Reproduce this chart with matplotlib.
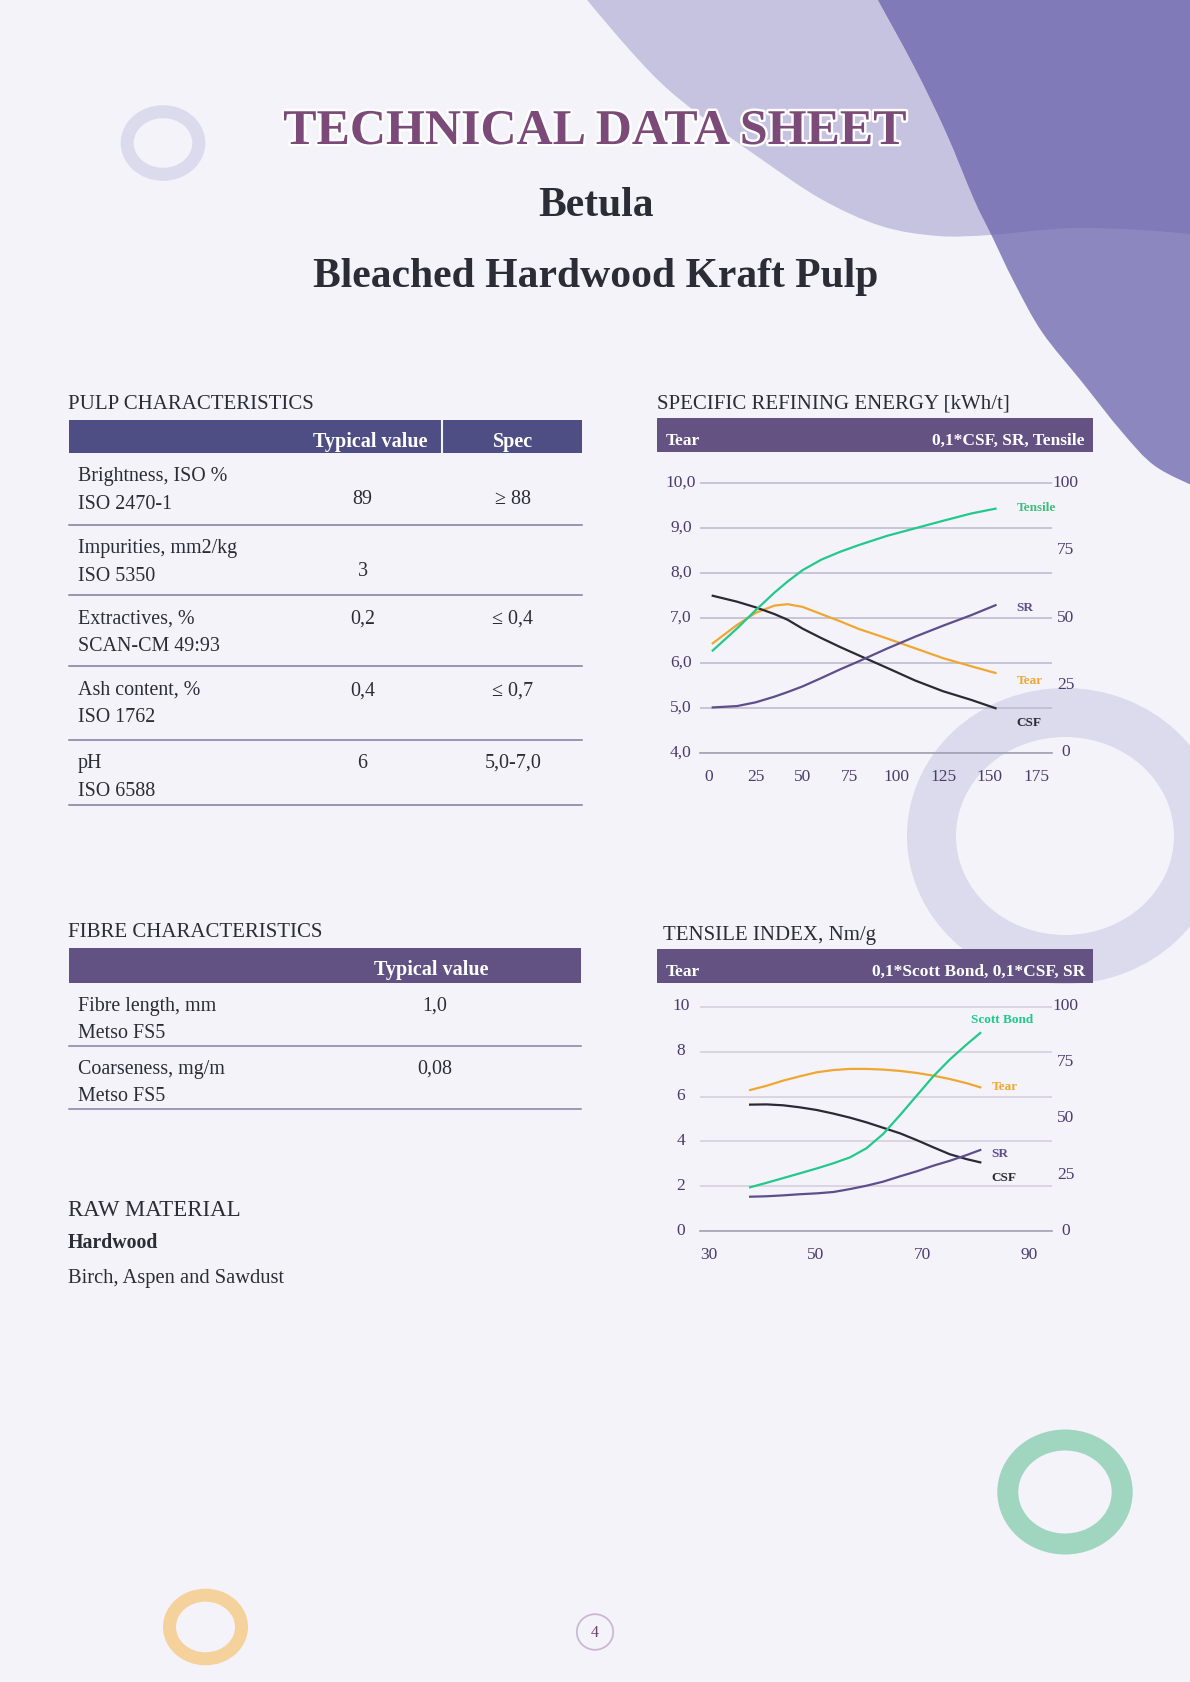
import matplotlib
matplotlib.use("Agg")
import matplotlib.pyplot as plt
import matplotlib.patheffects as pe
import matplotlib.transforms as mtransforms
from matplotlib.patches import Rectangle, Annulus, Ellipse, PathPatch
from matplotlib.path import Path

plt.rcParams["font.family"] = ["Liberation Serif", "DejaVu Serif"]

# ---- data ------------------------------------------------------------
pulp_params = ["Brightness, ISO %", "Impurities, mm2/kg", "Extractives, %",
               "Ash content, %", "pH"]
pulp_methods = ["ISO 2470-1", "ISO 5350", "SCAN-CM 49:93", "ISO 1762", "ISO 6588"]
pulp_typical = ["89", "3", "0,2", "0,4", "6"]
pulp_spec = ["≥ 88", "", "≤ 0,4", "≤ 0,7", "5,0-7,0"]

fibre_params = ["Fibre length, mm", "Coarseness, mg/m"]
fibre_methods = ["Metso FS5", "Metso FS5"]
fibre_typical = ["1,0", "0,08"]

# specific refining energy chart (x = kWh/t)
sre_energy = [2, 15, 25, 35, 42, 50, 60, 70, 80, 95, 110, 125, 140, 153]
sre_tear = [6.44, 6.85, 7.12, 7.28, 7.31, 7.25, 7.09, 6.93, 6.76, 6.55, 6.33, 6.11, 5.93, 5.78]
sre_tensile = [38.0, 46.2, 53.0, 59.5, 63.6, 67.8, 71.7, 74.6, 77.1, 80.5, 83.3, 86.1, 88.8, 90.6]
sre_sr = [16.9, 17.4, 18.8, 20.9, 22.6, 24.7, 27.8, 31.0, 34.0, 38.7, 43.1, 47.2, 51.1, 54.8]
sre_csf01 = [58.3, 56.1, 54.0, 51.5, 49.4, 46.1, 42.6, 39.3, 36.2, 31.6, 26.9, 22.9, 19.7, 16.6]
sre_xticks = [0, 25, 50, 75, 100, 125, 150, 175]
sre_left_ticks = [4, 5, 6, 7, 8, 9, 10]
sre_right_ticks = [0, 25, 50, 75, 100]

# tensile index chart (x = Nm/g)
ti_tensile = [37.7, 40.8, 43.9, 47.0, 50.2, 53.3, 56.4, 59.5, 62.6, 65.8, 68.9, 72.0, 75.1, 78.3, 80.8]
ti_tear = [6.29, 6.48, 6.71, 6.90, 7.08, 7.18, 7.23, 7.23, 7.20, 7.14, 7.05, 6.93, 6.78, 6.59, 6.41]
ti_scott01 = [19.6, 21.6, 23.7, 25.8, 28.0, 30.3, 32.9, 37.0, 43.3, 51.8, 60.4, 69.0, 76.5, 83.3, 88.3]
ti_csf01 = [56.4, 56.5, 56.1, 55.2, 54.0, 52.4, 50.6, 48.5, 46.1, 43.6, 40.6, 37.4, 34.3, 32.1, 30.7]
ti_sr = [15.4, 15.6, 16.0, 16.5, 16.9, 17.5, 18.8, 20.3, 22.1, 24.5, 26.7, 29.2, 31.4, 34.0, 36.2]
ti_xticks = [30, 50, 70, 90]
ti_left_ticks = [0, 2, 4, 6, 8, 10]
ti_right_ticks = [0, 25, 50, 75, 100]

# ---- style -----------------------------------------------------------
W, H = 1190, 1683
BG = "#f4f3f9"
TEXT = "#2b2c35"
TICK = "#4a3b6c"
GREEN = "#22c98b"
ORANGE = "#f0a732"
BLACK = "#2a2a35"
PURPLE = "#5d4e8c"
RING = "#dcdaed"
BODY = 14.4

fig = plt.figure(figsize=(W / 100, H / 100), dpi=100)
fig.patch.set_facecolor(BG)
bg = fig.add_axes([0, 0, 1, 1])
bg.set_xlim(0, W)
bg.set_ylim(H, 0)
bg.axis("off")


def smooth_path(points, closing):
    # catmull-rom through points, then straight back along the page edge
    verts = [points[0]]
    codes = [Path.MOVETO]
    n = len(points)
    for i in range(n - 1):
        p0 = points[max(i - 1, 0)]
        p1 = points[i]
        p2 = points[i + 1]
        p3 = points[min(i + 2, n - 1)]
        c1 = (p1[0] + (p2[0] - p0[0]) / 6, p1[1] + (p2[1] - p0[1]) / 6)
        c2 = (p2[0] - (p3[0] - p1[0]) / 6, p2[1] - (p3[1] - p1[1]) / 6)
        verts += [c1, c2, p2]
        codes += [Path.CURVE4] * 3
    for p in closing:
        verts.append(p)
        codes.append(Path.LINETO)
    verts.append(points[0])
    codes.append(Path.CLOSEPOLY)
    return Path(verts, codes)


# decorative background shapes
light_path = smooth_path(
    [(578, -10), (620, 40), (660, 83), (701, 117), (761, 160), (821, 200), (881, 227),
     (938, 237), (990, 236), (1042, 231), (1082, 229), (1143, 231), (1200, 236)],
    [(1200, -10)])
dark_path = smooth_path(
    [(872, -10), (914, 67), (946, 133), (974, 200), (990, 233), (1014, 283), (1042, 333),
     (1082, 383), (1122, 433), (1155, 467), (1200, 490)],
    [(1200, -10)])
light = PathPatch(light_path, facecolor="#c6c3e1", edgecolor="none", zorder=1)
bg.add_patch(light)
bg.add_patch(PathPatch(dark_path, facecolor="#8d87c0", edgecolor="none", zorder=1.1))
dark_top = PathPatch(dark_path, facecolor="#807bb8", edgecolor="none", zorder=1.2)
bg.add_patch(dark_top)
dark_top.set_clip_path(light)

bg.add_patch(Annulus((163, 144), (42.3, 37.8), 13, color=RING, lw=0, zorder=1))
bg.add_patch(Annulus((1065, 837), (158, 148), 49, color=RING, lw=0, zorder=1))
bg.add_patch(Annulus((1065, 1493), (67.7, 62.5), 21, color="#a0d6bf", lw=0, zorder=1))
bg.add_patch(Annulus((205.5, 1628), (42.5, 38.3), 13, color="#f5d19c", lw=0, zorder=1))
bg.add_patch(Ellipse((595, 1633), 36.4, 35.6, facecolor="none", edgecolor="#cdb8d3", lw=1.3, zorder=2))
bg.text(595, 1633, "4", ha="center", va="center", fontsize=11.5, color="#6d3f6e", zorder=3)

# titles
bg.text(595, 145, "TECHNICAL DATA SHEET", ha="center", va="baseline", fontsize=36,
        fontweight="bold", color="#7b4a78", zorder=5,
        path_effects=[pe.withStroke(linewidth=3.5, foreground="white")])
bg.text(596, 216, "Betula", ha="center", va="baseline", fontsize=30,
        fontweight="bold", color=TEXT, zorder=5)
bg.text(596, 287, "Bleached Hardwood Kraft Pulp", ha="center", va="baseline", fontsize=30,
        fontweight="bold", color=TEXT, zorder=5)

# ---- pulp characteristics table ---------------------------------------
bg.text(68, 409, "PULP CHARACTERISTICS", va="baseline", fontsize=15, color=TEXT)
bg.add_patch(Rectangle((68.6, 421), 513.4, 33, facecolor="#4f4e84", edgecolor="none", zorder=3))
bg.plot([442, 442], [421, 454], color=BG, lw=1.5, zorder=4)
bg.text(370, 446.7, "Typical value", ha="center", va="baseline", fontsize=14.5,
        fontweight="bold", color="white", zorder=5)
bg.text(513, 446.7, "Spec", ha="center", va="baseline", fontsize=14.5,
        fontweight="bold", color="white", zorder=5)

pulp_lines = [525.7, 596, 667, 741, 806]
pulp_tops = [454] + pulp_lines[:-1]
value_offsets = [49.5, 50, 28, 28.5, 27]
for i, top in enumerate(pulp_tops):
    bg.text(77.5, top + 27.5, pulp_params[i], va="baseline", fontsize=BODY, color=TEXT)
    bg.text(77.5, top + 55, pulp_methods[i], va="baseline", fontsize=BODY, color=TEXT)
    bg.text(362.5, top + value_offsets[i], pulp_typical[i], ha="center", va="baseline",
            fontsize=BODY, color=TEXT)
    bg.text(513, top + value_offsets[i], pulp_spec[i], ha="center", va="baseline",
            fontsize=BODY, color=TEXT)
    bg.plot([68.6, 582], [pulp_lines[i]] * 2, color="#7f7b9e", lw=1.1, zorder=3)

# ---- fibre characteristics table --------------------------------------
bg.text(68, 936.7, "FIBRE CHARACTERISTICS", va="baseline", fontsize=15, color=TEXT)
bg.add_patch(Rectangle((68.6, 949), 512.4, 34.7, facecolor="#625283", edgecolor="none", zorder=3))
bg.text(431.4, 975, "Typical value", ha="center", va="baseline", fontsize=14.5,
        fontweight="bold", color="white", zorder=5)
fibre_lines = [1046.7, 1110]
fibre_tops = [983.7, 1046.7]
for i, top in enumerate(fibre_tops):
    bg.text(77.5, top + 27, fibre_params[i], va="baseline", fontsize=BODY, color=TEXT)
    bg.text(77.5, top + 54.6, fibre_methods[i], va="baseline", fontsize=BODY, color=TEXT)
    bg.text(435, top + 27, fibre_typical[i], ha="center", va="baseline", fontsize=BODY, color=TEXT)
    bg.plot([68.6, 581], [fibre_lines[i]] * 2, color="#8480a3", lw=1.1, zorder=3)

# ---- raw material -----------------------------------------------------
bg.text(68, 1216, "RAW MATERIAL", va="baseline", fontsize=16.5, color=TEXT)
bg.text(68, 1247.7, "Hardwood", va="baseline", fontsize=14.3, fontweight="bold", color=TEXT)
bg.text(68, 1282.7, "Birch, Aspen and Sawdust", va="baseline", fontsize=14.8, color=TEXT)


# ---- charts -----------------------------------------------------------
def chart_header(top, title_x, title, right_text):
    bg.text(title_x, top - 10, title, va="baseline", fontsize=15, color=TEXT)
    bg.add_patch(Rectangle((657, top), 436, 34, facecolor="#645283", edgecolor="none", zorder=3))
    bg.text(665.7, top + 26, "Tear", va="baseline", fontsize=12.5, fontweight="bold",
            color="white", zorder=5)
    bg.text(1085, top + 26, right_text, ha="right", va="baseline", fontsize=12.5,
            fontweight="bold", color="white", zorder=5)


def make_axes(x0, x1, y_bottom, px_per_unit, ylim, xlim):
    y_top = y_bottom - (ylim[1] - ylim[0]) * px_per_unit
    ax = fig.add_axes([x0 / W, 1 - y_bottom / H, (x1 - x0) / W, (y_bottom - y_top) / H])
    ax.set_facecolor("none")
    ax.set_xlim(*xlim)
    ax.set_ylim(*ylim)
    return ax


def style_axes(ax, ax2, grid_color, xticks, left_ticks, left_labels, right_ticks):
    for s in ["top", "left", "right"]:
        ax.spines[s].set_visible(False)
    ax.spines["bottom"].set_color("#a3a1b4")
    ax.spines["bottom"].set_linewidth(1.2)
    for s in ax2.spines.values():
        s.set_visible(False)
    ax.set_xticks(xticks)
    ax.set_xticklabels([str(t) for t in xticks])
    ax.set_yticks(left_ticks)
    ax.set_yticklabels(left_labels)
    ax2.set_yticks(right_ticks)
    ax2.set_yticklabels([str(t) for t in right_ticks])
    ax.grid(axis="y", color=grid_color, lw=1.2)
    ax.tick_params(axis="y", length=0, pad=13.7, labelsize=12.5, labelcolor=TICK)
    ax.tick_params(axis="x", length=0, pad=16.3, labelsize=12.5, labelcolor=TICK)
    ax2.tick_params(axis="y", length=0, pad=9.7, labelsize=12.5, labelcolor=TICK)
    offset = mtransforms.ScaledTranslation(0, 3.5 / 100, fig.dpi_scale_trans)
    for lab in ax.get_yticklabels():
        lab.set_ha("center")
        lab.set_transform(lab.get_transform() + offset)
    for lab in ax2.get_yticklabels():
        lab.set_ha("center")
        lab.set_transform(lab.get_transform() + offset)
    for lab in ax.get_xticklabels():
        lab.set_va("center")


# specific refining energy
chart_header(419, 657, "SPECIFIC REFINING ENERGY [kWh/t]", "0,1*CSF, SR, Tensile")
sre_xscale = (1036.7 - 709) / 175
ax1 = make_axes(700, 1052, 754, 44.95, (4, 10.04),
                ((700 - 709) / sre_xscale, 175 + (1052 - 1036.7) / sre_xscale))
ax1b = ax1.twinx()
ax1b.set_ylim(0, 100 * 6.04 / 6)
style_axes(ax1, ax1b, "#bfbcd1", sre_xticks, sre_left_ticks,
           [f"{v:.1f}".replace(".", ",") for v in sre_left_ticks], sre_right_ticks)
ax1.plot(sre_energy, sre_tear, color=ORANGE, lw=1.6, zorder=3)
ax1b.plot(sre_energy, sre_csf01, color=BLACK, lw=1.6)
ax1b.plot(sre_energy, sre_sr, color=PURPLE, lw=1.6)
ax1b.plot(sre_energy, sre_tensile, color=GREEN, lw=1.6)
ax1.text(164.3, 9.47, "Tensile", color="#3dbf7c", fontsize=9.5, fontweight="bold", va="center")
ax1.text(164.3, 7.25, "SR", color=PURPLE, fontsize=9.5, fontweight="bold", va="center")
ax1.text(164.3, 5.63, "Tear", color=ORANGE, fontsize=9.5, fontweight="bold", va="center")
ax1.text(164.3, 4.70, "CSF", color=BLACK, fontsize=9.5, fontweight="bold", va="center")

# tensile index
chart_header(950, 663, "TENSILE INDEX, Nm/g", "0,1*Scott Bond, 0,1*CSF, SR")
ti_xscale = (1029.4 - 709) / 60
ax2 = make_axes(700, 1052, 1232.3, 22.46, (0, 10.06),
                (30 + (700 - 709) / ti_xscale, 30 + (1052 - 709) / ti_xscale))
ax2b = ax2.twinx()
ax2b.set_ylim(0, 100.6)
style_axes(ax2, ax2b, "#d8cedb", ti_xticks, ti_left_ticks,
           [str(v) for v in ti_left_ticks], ti_right_ticks)
ax2.plot(ti_tensile, ti_tear, color=ORANGE, lw=1.6, zorder=3)
ax2b.plot(ti_tensile, ti_csf01, color=BLACK, lw=1.6)
ax2b.plot(ti_tensile, ti_sr, color=PURPLE, lw=1.6)
ax2b.plot(ti_tensile, ti_scott01, color=GREEN, lw=1.6)
ax2.text(84.8, 9.45, "Scott Bond", color="#1fc98a", fontsize=9.5, fontweight="bold",
         ha="center", va="center")
ax2.text(82.9, 6.48, "Tear", color=ORANGE, fontsize=9.5, fontweight="bold", va="center")
ax2.text(82.9, 3.49, "SR", color=PURPLE, fontsize=9.5, fontweight="bold", va="center")
ax2.text(82.9, 2.40, "CSF", color=BLACK, fontsize=9.5, fontweight="bold", va="center")

fig.savefig("out.png", dpi=100, facecolor=BG)
